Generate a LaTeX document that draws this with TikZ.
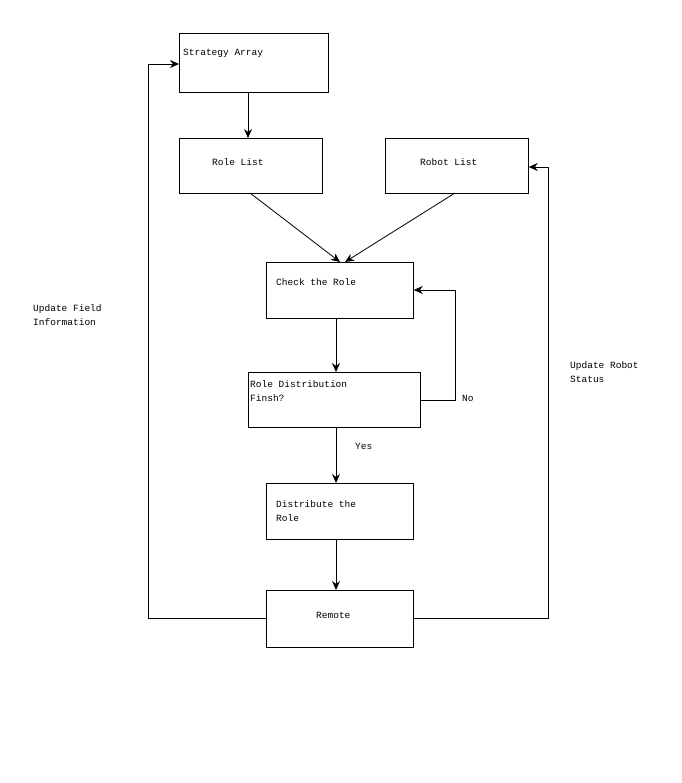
\documentclass[tikz,border=0pt]{standalone}
\usepackage{fontspec}
\setmonofont{Liberation Mono}
\usetikzlibrary{arrows.meta}
\begin{document}
\begin{tikzpicture}[x=1pt,y=-1pt,
  box/.style={draw,line width=0.8pt,minimum width=#1,anchor=north west,inner sep=0pt},
  txt/.style={font=\ttfamily\fontsize{9.5}{14}\selectfont,anchor=west,align=left,inner sep=0pt},
  arr/.style={line width=0.8pt,-{Stealth[length=9pt,width=8pt]}}]
\useasboundingbox (0,0) rectangle (681,783);
\node[box=149pt,minimum height=59pt] (sa) at (179,33) {};
\node[txt] at (183,53) {Strategy Array};
\node[box=143pt,minimum height=55pt] (rl) at (179,138) {};
\node[txt] at (212,162) {Role List};
\node[box=143pt,minimum height=55pt] (bl) at (385,138) {};
\node[txt] at (420,162) {Robot List};
\node[box=147pt,minimum height=56pt] (cr) at (266,262) {};
\node[txt] at (276,282) {Check the Role};
\node[box=172pt,minimum height=55pt] (rd) at (248,372) {};
\node[txt] at (250,391) {Role Distribution\\Finsh?};
\node[box=147pt,minimum height=56pt] (dr) at (266,483) {};
\node[txt] at (276,511) {Distribute the\\Role};
\node[box=147pt,minimum height=57pt] (re) at (266,590) {};
\node[txt] at (316,615) {Remote};
\coordinate (rlb) at (250,193);
\coordinate (blb) at (455,193);
\coordinate (crt1) at (340,262);
\coordinate (crt2) at (345,262);
\draw[arr] (248,92) -- (248,138);
\draw[arr] (rlb) -- (crt1);
\draw[arr] (blb) -- (crt2);
\draw[arr] (336,318) -- (336,372);
\draw[arr] (336,427) -- (336,483);
\draw[arr] (336,539) -- (336,590);
\draw[arr] (rd.east |- 0,400) -| (455,290) -- (cr.east |- 0,290);
\draw[arr] (re.west |- 0,618) -| (148,64) -- (sa.west |- 0,64);
\draw[arr] (re.east |- 0,618) -| (548,167) -- (bl.east |- 0,167);
\node[txt] (no) at (462,398) {No};
\node[txt] (yes) at (355,446) {Yes};
\node[txt] (uf) at (33,315) {Update Field\\Information};
\node[txt] (ur) at (570,372) {Update Robot\\Status};
\end{tikzpicture}
\end{document}
